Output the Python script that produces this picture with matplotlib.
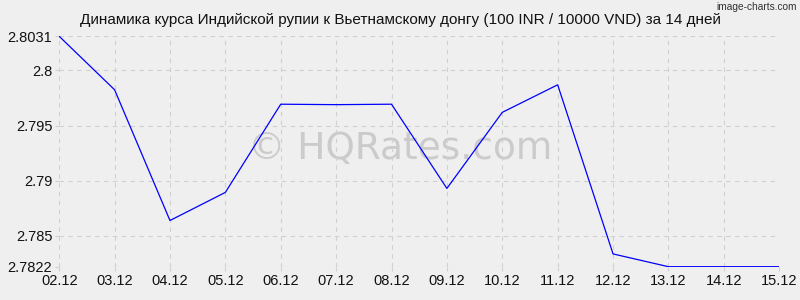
import matplotlib
matplotlib.use('Agg')
import matplotlib.pyplot as plt

plt.rcParams['font.family'] = ['Liberation Sans', 'DejaVu Sans']

dates = ['02.12', '03.12', '04.12', '05.12', '06.12', '07.12', '08.12',
         '09.12', '10.12', '11.12', '12.12', '13.12', '14.12', '15.12']
rates = [2.8031, 2.79825, 2.78639, 2.78894, 2.79694, 2.7969, 2.79694,
         2.7893, 2.7962, 2.7987, 2.78336, 2.7822, 2.7822, 2.7822]
yticks = [2.7822, 2.785, 2.79, 2.795, 2.8, 2.8031]
ylabels = ['2.7822', '2.785', '2.79', '2.795', '2.8', '2.8031']

bg = '#efefef'
fig = plt.figure(figsize=(8, 3), dpi=100, facecolor=bg)
ax = fig.add_axes([0.074, 0.111, 0.9, 0.768])
ax.patch.set_alpha(0)

x = list(range(len(dates)))
ax.plot(x, rates, color='#0000ff', lw=0.9)
ax.set_xlim(0, len(dates) - 1)
ax.set_ylim(2.7822, 2.8031)
ax.set_xticks(x)
ax.set_xticklabels(dates)
ax.set_yticks(yticks)
ax.set_yticklabels(ylabels)
ax.grid(True, color='#d0d0d0', ls=(0, (4, 4)), lw=0.8)
for s in ax.spines.values():
    s.set_visible(False)
ax.tick_params(length=3, color='#d0d0d0', labelsize=10.5, pad=2,
               labelcolor='#111111')
ax.set_axisbelow(True)

# watermark sits behind the line
fig.text(0.5, 0.505, '© HQRates.com', ha='center', va='center',
         fontsize=27, color='#cbcbcb', zorder=-1, family='DejaVu Sans')
fig.text(0.5, 0.958, 'Динамика курса Индийской рупии к Вьетнамскому донгу '
         '(100 INR / 10000 VND) за 14 дней', ha='center', va='top',
         fontsize=11, color='#111111')
fig.text(0.996, 0.993, 'image-charts.com', ha='right', va='top',
         fontsize=7.3, color='#333333')

fig.savefig('out.png', dpi=100, facecolor=bg)
